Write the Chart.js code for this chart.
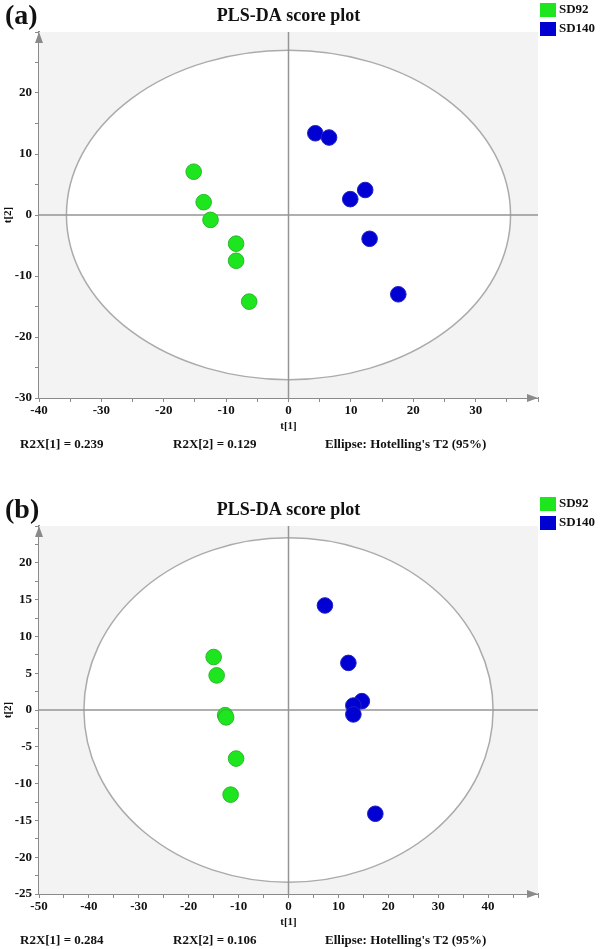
<!DOCTYPE html>
<html>
<head>
<meta charset="utf-8">
<script src="https://cdn.jsdelivr.net/npm/chart.js@4/dist/chart.umd.min.js"></script>
<style>
body { margin: 0; background: #fff; width: 600px; height: 949px; overflow: hidden; position: relative; }
canvas { position: absolute; left: 0; }
#chartA { top: 0; }
#chartB { top: 475px; }
</style>
</head>
<body>
<canvas id="chartA" width="600" height="475"></canvas>
<canvas id="chartB" width="600" height="474"></canvas>
<script>
// ------------------ Data ------------------
const groups = ['SD92', 'SD140'];
const groupColors = ['#1ee61e', '#0000d2'];
const groupBorders = ['#2cb82c', '#2020c8'];

// panel (a)
const a_SD92_t1 = [-15.2, -13.6, -12.5, -8.4, -8.4, -6.3];
const a_SD92_t2 = [7.1, 2.1, -0.8, -4.7, -7.5, -14.2];
const a_SD140_t1 = [4.3, 6.5, 9.9, 12.3, 13.0, 17.6];
const a_SD140_t2 = [13.4, 12.7, 2.6, 4.1, -3.9, -13.0];
const a_xRange = [-40, 40];
const a_yRange = [-30, 30];
const a_ellipse = [35.6, 27.0];   // Hotelling's T2 semi-axes (t1, t2)
const a_notes = ['R2X[1] = 0.239', 'R2X[2] = 0.129', "Ellipse: Hotelling's T2 (95%)"];

// panel (b)
const b_SD92_t1 = [-15.0, -14.4, -12.7, -12.5, -10.5, -11.6];
const b_SD92_t2 = [7.2, 4.7, -0.7, -1.0, -6.6, -11.5];
const b_SD140_t1 = [7.3, 12.0, 14.7, 13.0, 13.0, 17.4];
const b_SD140_t2 = [14.2, 6.4, 1.2, 0.6, -0.6, -14.1];
const b_xRange = [-50, 50];
const b_yRange = [-25, 25];
const b_ellipse = [41.0, 23.4];
const b_notes = ['R2X[1] = 0.284', 'R2X[2] = 0.106', "Ellipse: Hotelling's T2 (95%)"];

const SERIF = '"Liberation Serif", "Times New Roman", serif';
const AXIS_GREY = '#8a8a8a';

function toPoints(xs, ys) {
    return xs.map((x, i) => ({ x: x, y: ys[i] }));
}

// ------------------ Decorations plugin ------------------
function scorePlotPlugin(opt) {
    return {
        id: 'scorePlot',
        beforeDatasetsDraw(chart) {
            const { ctx, chartArea: ca, scales: { x, y } } = chart;
            ctx.save();
            // plot background
            ctx.fillStyle = '#f3f3f3';
            ctx.fillRect(ca.left, ca.top, ca.right - ca.left, ca.bottom - ca.top);
            // ellipse
            const cx = x.getPixelForValue(0), cy = y.getPixelForValue(0);
            const rx = x.getPixelForValue(opt.ellipse[0]) - cx;
            const ry = cy - y.getPixelForValue(opt.ellipse[1]);
            ctx.beginPath();
            ctx.ellipse(cx, cy, rx, ry, 0, 0, Math.PI * 2);
            ctx.fillStyle = '#ffffff';
            ctx.fill();
            ctx.strokeStyle = '#ababab';
            ctx.lineWidth = 1.5;
            ctx.stroke();
            // zero lines
            ctx.strokeStyle = '#959595';
            ctx.lineWidth = 1.5;
            ctx.beginPath();
            ctx.moveTo(ca.left, cy); ctx.lineTo(ca.right, cy);
            ctx.moveTo(cx, ca.top); ctx.lineTo(cx, ca.bottom);
            ctx.stroke();
            ctx.restore();
        },
        afterDraw(chart) {
            const { ctx, chartArea: ca, scales: { x, y } } = chart;
            ctx.save();
            // axis arrows
            ctx.fillStyle = AXIS_GREY;
            ctx.beginPath();
            ctx.moveTo(ca.left, ca.top);
            ctx.lineTo(ca.left - 4, ca.top + 11);
            ctx.lineTo(ca.left + 4, ca.top + 11);
            ctx.closePath();
            ctx.fill();
            ctx.beginPath();
            ctx.moveTo(ca.right, ca.bottom);
            ctx.lineTo(ca.right - 11, ca.bottom - 4);
            ctx.lineTo(ca.right - 11, ca.bottom + 4);
            ctx.closePath();
            ctx.fill();

            ctx.fillStyle = '#111';
            ctx.textBaseline = 'middle';
            // panel letter
            ctx.font = 'bold 28px ' + SERIF;
            ctx.textAlign = 'left';
            ctx.fillText(opt.letter, 5, ca.top - 15);
            // title
            ctx.font = 'bold 18px ' + SERIF;
            ctx.textAlign = 'center';
            ctx.fillText('PLS-DA score plot', x.getPixelForValue(0), ca.top - 16);
            // legend
            ctx.font = 'bold 13px ' + SERIF;
            ctx.textAlign = 'left';
            groups.forEach((g, i) => {
                const top = ca.top - 29 + i * 19;
                ctx.fillStyle = groupColors[i];
                ctx.fillRect(540, top, 16, 14);
                ctx.fillStyle = '#111';
                ctx.fillText(g, 559, top + 7);
            });
            // axis titles
            ctx.font = 'bold 11px ' + SERIF;
            ctx.textAlign = 'center';
            ctx.fillText('t[1]', x.getPixelForValue(0), ca.bottom + 28);
            ctx.save();
            ctx.translate(8, y.getPixelForValue(0));
            ctx.rotate(-Math.PI / 2);
            ctx.fillText('t[2]', 0, 0);
            ctx.restore();
            // footer notes
            ctx.font = 'bold 13px ' + SERIF;
            ctx.textAlign = 'left';
            ctx.fillText(opt.notes[0], 20, ca.bottom + 47);
            ctx.fillText(opt.notes[1], 173, ca.bottom + 47);
            ctx.fillText(opt.notes[2], 325, ca.bottom + 47);
            ctx.restore();
        }
    };
}

// ------------------ Build a panel ------------------
function makePanel(canvasId, p) {
    const tickFont = { family: SERIF, size: 13, weight: 'bold' };
    new Chart(document.getElementById(canvasId).getContext('2d'), {
        type: 'scatter',
        data: {
            datasets: [
                { label: groups[0], data: toPoints(p.g1x, p.g1y), backgroundColor: groupColors[0], borderColor: groupBorders[0] },
                { label: groups[1], data: toPoints(p.g2x, p.g2y), backgroundColor: groupColors[1], borderColor: groupBorders[1] }
            ]
        },
        options: {
            responsive: false,
            animation: false,
            devicePixelRatio: 1,
            layout: { padding: { top: p.top, right: 62, left: 0, bottom: 0 } },
            elements: { point: { radius: 7.8, borderWidth: 1, hoverRadius: 7.8 } },
            plugins: { legend: { display: false }, tooltip: { enabled: false } },
            scales: {
                x: {
                    min: p.xRange[0], max: p.xRange[1],
                    afterFit(s) { s.height = p.bottomSpace; },
                    border: { display: true, color: AXIS_GREY, width: 2 },
                    grid: { drawOnChartArea: false, drawTicks: true, tickLength: 4, color: AXIS_GREY },
                    ticks: {
                        stepSize: 5, autoSkip: false, maxRotation: 0, padding: 1,
                        color: '#111', font: tickFont,
                        callback: v => (v % 10 === 0 && v !== p.xRange[1]) ? String(v) : ''
                    }
                },
                y: {
                    min: p.yRange[0], max: p.yRange[1],
                    afterFit(s) { s.width = 39; },
                    border: { display: true, color: AXIS_GREY, width: 2 },
                    grid: { drawOnChartArea: false, drawTicks: true, tickLength: 4, color: AXIS_GREY },
                    ticks: {
                        stepSize: p.yStep, autoSkip: false, padding: 3,
                        color: '#111', font: tickFont,
                        callback: v => (v % p.yLabelEvery === 0 && v !== p.yRange[1]) ? String(v) : ''
                    }
                }
            }
        },
        plugins: [scorePlotPlugin({ letter: p.letter, ellipse: p.ellipse, notes: p.notes })]
    });
}

makePanel('chartA', {
    letter: '(a)', top: 32, bottomSpace: 77,
    g1x: a_SD92_t1, g1y: a_SD92_t2, g2x: a_SD140_t1, g2y: a_SD140_t2,
    xRange: a_xRange, yRange: a_yRange, yStep: 5, yLabelEvery: 10,
    ellipse: a_ellipse, notes: a_notes
});

makePanel('chartB', {
    letter: '(b)', top: 51, bottomSpace: 55,
    g1x: b_SD92_t1, g1y: b_SD92_t2, g2x: b_SD140_t1, g2y: b_SD140_t2,
    xRange: b_xRange, yRange: b_yRange, yStep: 2.5, yLabelEvery: 5,
    ellipse: b_ellipse, notes: b_notes
});
</script>
</body>
</html>
